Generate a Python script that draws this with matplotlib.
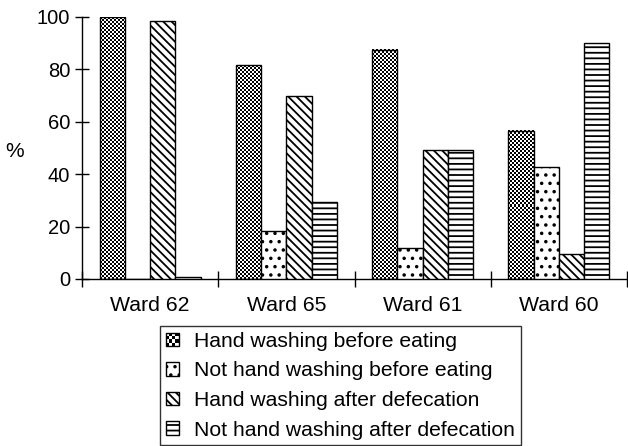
import numpy as np
import matplotlib
matplotlib.use("Agg")
import matplotlib.pyplot as plt
from matplotlib.patches import Rectangle, Patch
from matplotlib.legend_handler import HandlerBase

plt.rcParams['font.family'] = ['Liberation Sans', 'DejaVu Sans']
plt.rcParams['hatch.linewidth'] = 1.3

wards = ["Ward 62", "Ward 65", "Ward 61", "Ward 60"]
series_names = ["Hand washing before eating",
                "Not hand washing before eating",
                "Hand washing after defecation",
                "Not hand washing after defecation"]
hand_before_eating = [100, 81.5, 87.5, 56.6]
not_hand_before_eating = [0, 18.3, 11.8, 42.6]
hand_after_defecation = [98.6, 69.8, 49.2, 9.5]
not_hand_after_defecation = [0.7, 29.4, 49.2, 90.0]
yticks = [0, 20, 40, 60, 80, 100]

fig = plt.figure(figsize=(6.28, 4.46), dpi=100)
ax = fig.add_axes([82/628, 1-279/446, 545/628, 262/446])
ax.set_xlim(-0.5, 3.5)
ax.set_ylim(0, 100)

x = np.arange(len(wards))
w = 0.185
series = [hand_before_eating, not_hand_before_eating,
          hand_after_defecation, not_hand_after_defecation]
hatches = [None, '..', '\\\\\\\\', '---']

bar_groups = []
for i, (vals, h) in enumerate(zip(series, hatches)):
    if i == 0:
        bars = ax.bar(x + (i - 1.5) * w, vals, w, facecolor='none',
                      edgecolor='black', linewidth=1.0, zorder=3)
    else:
        bars = ax.bar(x + (i - 1.5) * w, vals, w, facecolor='white',
                      edgecolor='black', hatch=h, linewidth=1.0, zorder=3)
    bar_groups.append(bars)

# checkerboard texture for first series, derived from each bar's geometry
cell_px = 2.0
for rect in bar_groups[0]:
    x0, bw, bh = rect.get_x(), rect.get_width(), rect.get_height()
    if bh <= 0:
        continue
    p0 = ax.transData.transform((x0, 0))
    p1 = ax.transData.transform((x0 + bw, bh))
    nx = max(1, int(round((p1[0] - p0[0]) / cell_px)))
    ny = max(1, int(round((p1[1] - p0[1]) / cell_px)))
    board = (np.indices((ny, nx)).sum(axis=0) % 2).astype(float)
    ax.imshow(board, cmap='gray', extent=(x0, x0 + bw, 0, bh),
              interpolation='nearest', aspect='auto', zorder=2,
              vmin=0, vmax=1)
ax.set_xlim(-0.5, 3.5)
ax.set_ylim(0, 100)

ax.spines['top'].set_visible(False)
ax.spines['right'].set_visible(False)
ax.spines['left'].set_linewidth(1.0)
ax.spines['bottom'].set_linewidth(1.0)

ax.set_yticks(yticks)
ax.set_yticklabels([str(v) for v in yticks])
ax.tick_params(axis='y', direction='inout', length=10, width=1.0,
               labelsize=14.5, pad=3.5)

ax.set_xticks(np.arange(-0.5, 4.0, 1.0))
ax.set_xticklabels([])
ax.tick_params(axis='x', which='major', direction='inout', length=11,
               width=1.0)
ax.set_xticks(x, minor=True)
ax.set_xticklabels(wards, minor=True)
ax.tick_params(axis='x', which='minor', length=0, labelsize=15.3, pad=12)

ax.set_ylabel('%', rotation=0, fontsize=15, va='center', ha='center')
ax.yaxis.set_label_coords(-0.123, 0.485)


class CheckerHandler(HandlerBase):
    def create_artists(self, legend, orig_handle, xdescent, ydescent,
                       width, height, fontsize, trans):
        n = 4
        arts = []
        cw, ch = width / n, height / n
        for r in range(n):
            for c in range(n):
                if (r + c) % 2 == 0:
                    arts.append(Rectangle((-xdescent + c * cw, -ydescent + r * ch),
                                          cw, ch, facecolor='black',
                                          edgecolor='none', transform=trans))
        arts.append(Rectangle((-xdescent, -ydescent), width, height,
                              facecolor='none', edgecolor='black',
                              linewidth=1.0, transform=trans))
        return arts


checker_proxy = Patch(facecolor='none', edgecolor='black')
handles = [checker_proxy] + [bg for bg in bar_groups[1:]]
leg = fig.legend(handles, series_names,
                 handler_map={checker_proxy: CheckerHandler()},
                 loc='upper left', bbox_to_anchor=(160/628, 1-326/446),
                 fontsize=15.2, frameon=True, fancybox=False,
                 handlelength=0.6, handleheight=0.6, handletextpad=0.75,
                 labelspacing=0.5, borderpad=0.28, borderaxespad=0)
leg.get_frame().set_edgecolor('black')
leg.get_frame().set_linewidth(1.0)

fig.savefig('out.png', dpi=100)
